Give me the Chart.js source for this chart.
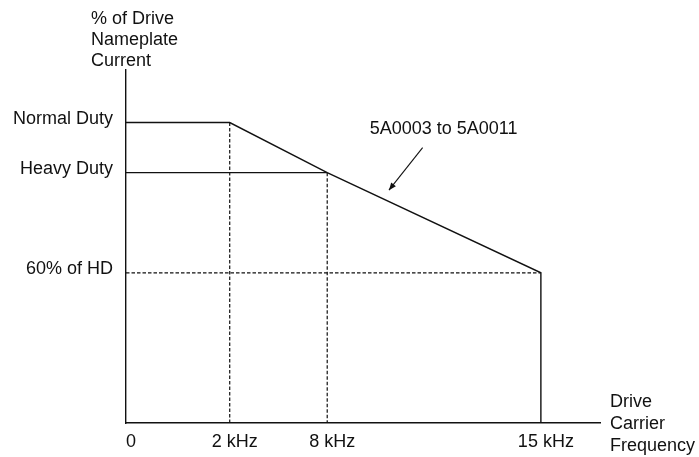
<!DOCTYPE html>
<html>
<head>
<meta charset="utf-8">
<script src="https://cdn.jsdelivr.net/npm/chart.js@4/dist/chart.umd.min.js"></script>
<style>
  html, body { margin: 0; padding: 0; background: #ffffff; }
  #c { display: block; }
</style>
</head>
<body>
<canvas id="c" width="699" height="457"></canvas>
<script>
// ---- data ----
const freqLabels   = ['0', '2 kHz', '8 kHz', '15 kHz'];
const freqKHz      = [0, 2, 8, 15];
// the drawing's frequency axis is not to scale: where each labelled frequency sits on it
const freqAxisPos  = [0, 1, 1.94, 4];
const xAxisEnd     = 4.57;

const dutyLabels   = ['Normal Duty', 'Heavy Duty', '60% of HD'];
const dutyPct      = [120, 100, 60];
const yAxisTop     = 141;

// derating curve (5A0003 to 5A0011)
const curveKHz     = [0, 2, 8, 15, 15];
const curvePct     = [120, 120, 100, 60, 0];

// heavy-duty reference line
const hdKHz        = [0, 8];
const hdPct        = [100, 100];

// dashed guide lines
const guide2KHz    = [2, 2];     const guide2Pct  = [120, 0];
const guide8KHz    = [8, 8];     const guide8Pct  = [100, 0];
const guide60KHz   = [0, 15];    const guide60Pct = [60, 60];

const yTitleLines  = ['% of Drive', 'Nameplate', 'Current'];
const xTitleLines  = ['Drive', 'Carrier', 'Frequency'];
const seriesLabel  = '5A0003 to 5A0011';

// ---- helpers ----
const pos = k => freqAxisPos[freqKHz.indexOf(k)];
const pts = (ks, ps) => ks.map((k, i) => ({ x: pos(k), y: ps[i] }));

const INK = '#111111';
const FONT = "'Liberation Sans', Arial, Helvetica, sans-serif";
const FS = 18;

const solid = (data) => ({ data, borderColor: INK, borderWidth: 1.4, pointRadius: 0, fill: false, tension: 0 });
const dashed = (data) => ({ data, borderColor: INK, borderWidth: 1.2, borderDash: [3.5, 2], pointRadius: 0, fill: false, tension: 0 });

const textPlugin = {
  id: 'textPlugin',
  afterDraw(chart) {
    const ctx = chart.ctx;
    const xs = chart.scales.x, ys = chart.scales.y, area = chart.chartArea;
    ctx.save();
    ctx.fillStyle = INK;
    ctx.font = FS + 'px ' + FONT;
    ctx.textAlign = 'left';
    ctx.textBaseline = 'alphabetic';
    // y-axis title above the axis
    yTitleLines.forEach((t, i) => ctx.fillText(t, area.left - 35, 24 + i * 21));
    // x-axis title to the right of the axis
    xTitleLines.forEach((t, i) => ctx.fillText(t, area.right + 10, area.bottom - 16 + i * 22));
    // series label with arrow (annotation in data units)
    ctx.fillText(seriesLabel, xs.getPixelForValue(2.35), ys.getPixelForValue(115.6));
    const x1 = xs.getPixelForValue(2.86), y1 = ys.getPixelForValue(110);
    const x2 = xs.getPixelForValue(2.535), y2 = ys.getPixelForValue(93);
    ctx.strokeStyle = INK; ctx.lineWidth = 1.1;
    ctx.beginPath(); ctx.moveTo(x1, y1); ctx.lineTo(x2, y2); ctx.stroke();
    const ang = Math.atan2(y2 - y1, x2 - x1), L = 8, W = 0.38;
    ctx.beginPath();
    ctx.moveTo(x2, y2);
    ctx.lineTo(x2 - L * Math.cos(ang - W), y2 - L * Math.sin(ang - W));
    ctx.lineTo(x2 - L * Math.cos(ang + W), y2 - L * Math.sin(ang + W));
    ctx.closePath(); ctx.fill();
    ctx.restore();
  }
};

new Chart(document.getElementById('c'), {
  type: 'line',
  data: {
    datasets: [
      solid(pts(curveKHz, curvePct)),
      solid(pts(hdKHz, hdPct)),
      dashed(pts(guide2KHz, guide2Pct)),
      dashed(pts(guide8KHz, guide8Pct)),
      dashed(pts(guide60KHz, guide60Pct))
    ]
  },
  options: {
    responsive: false,
    animation: false,
    devicePixelRatio: 1,
    layout: { padding: { left: 0, right: 99, top: 70, bottom: 0 } },
    plugins: { legend: { display: false }, tooltip: { enabled: false }, title: { display: false } },
    scales: {
      x: {
        type: 'linear',
        min: 0, max: xAxisEnd,
        grid: { display: false, drawTicks: false },
        border: { display: true, color: INK, width: 1.4 },
        afterBuildTicks: s => { s.ticks = freqAxisPos.map(v => ({ value: v })); },
        afterFit: s => { s.height = 34; },
        ticks: {
          autoSkip: false, maxRotation: 0, padding: 8, labelOffset: 5,
          color: INK, font: { family: FONT, size: FS },
          callback: v => freqLabels[freqAxisPos.indexOf(v)]
        }
      },
      y: {
        type: 'linear',
        min: 0, max: yAxisTop,
        grid: { display: false, drawTicks: false },
        border: { display: true, color: INK, width: 1.4 },
        afterBuildTicks: s => { s.ticks = dutyPct.map(v => ({ value: v })); },
        afterFit: s => { s.width = 126; },
        ticks: {
          autoSkip: false, padding: 13, labelOffset: -4,
          color: INK, font: { family: FONT, size: FS },
          callback: v => dutyLabels[dutyPct.indexOf(v)]
        }
      }
    }
  },
  plugins: [textPlugin]
});
</script>
</body>
</html>
